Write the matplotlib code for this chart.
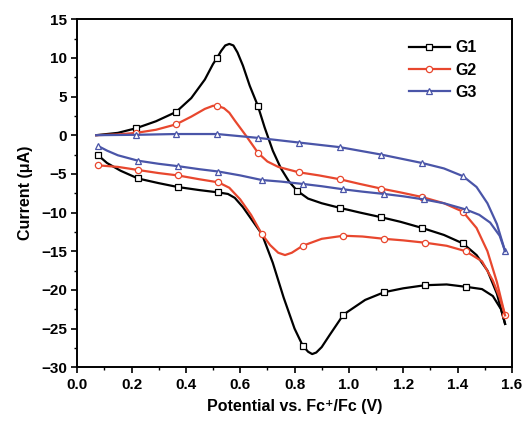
import matplotlib
matplotlib.use("Agg")
import matplotlib.pyplot as plt
from matplotlib.ticker import MultipleLocator

# --- DATA ---
# G1: forward (anodic) scan and return scan
g1_fwd_x = [0.07, 0.15, 0.217, 0.29, 0.364, 0.42, 0.47, 0.50, 0.515, 0.53, 0.545, 0.56, 0.575, 0.59,
            0.61, 0.635, 0.665, 0.69, 0.72, 0.75, 0.78, 0.81, 0.85, 0.90, 0.967, 1.04, 1.118, 1.19,
            1.27, 1.35, 1.42, 1.47, 1.51, 1.545, 1.575]
g1_fwd_y = [0.0, 0.3, 0.9, 1.8, 3.0, 4.8, 7.2, 9.2, 10.0, 10.9, 11.6, 11.8, 11.6, 10.7,
            9.0, 6.4, 3.8, 1.0, -2.0, -4.3, -6.0, -7.2, -8.2, -8.8, -9.4, -10.0, -10.6, -11.2,
            -12.0, -12.9, -14.0, -15.5, -17.5, -20.5, -24.4]
g1_rev_x = [1.575, 1.56, 1.53, 1.49, 1.43, 1.36, 1.28, 1.20, 1.13, 1.06, 0.98, 0.93, 0.90, 0.88,
            0.865, 0.85, 0.83, 0.80, 0.76, 0.72, 0.68, 0.64, 0.61, 0.58, 0.555, 0.52, 0.45, 0.37,
            0.30, 0.224, 0.16, 0.11, 0.077]
g1_rev_y = [-24.4, -22.5, -20.8, -19.9, -19.6, -19.3, -19.4, -19.8, -20.3, -21.3, -23.2, -25.8, -27.4, -28.1,
            -28.3, -28.0, -27.2, -25.0, -21.0, -16.5, -12.8, -10.8, -9.3, -8.1, -7.6, -7.4, -7.1, -6.7,
            -6.2, -5.6, -4.6, -3.6, -2.6]
g1_fwd_marks = [2, 4, 8, 16, 21, 24, 26, 28, 30]
g1_rev_marks = [4, 6, 8, 10, 16, 25, 27, 29, 32]

# G2
g2_fwd_x = [0.07, 0.15, 0.217, 0.29, 0.364, 0.42, 0.47, 0.50, 0.515, 0.54, 0.56, 0.58, 0.62, 0.666,
            0.70, 0.74, 0.816, 0.89, 0.967, 1.04, 1.118, 1.19, 1.27, 1.35, 1.42, 1.47, 1.51, 1.545,
            1.575]
g2_fwd_y = [0.0, 0.1, 0.3, 0.7, 1.4, 2.4, 3.4, 3.8, 3.8, 3.5, 2.9, 1.9, 0.0, -2.3,
            -3.4, -4.1, -4.8, -5.2, -5.7, -6.3, -6.9, -7.4, -8.0, -8.8, -9.9, -12.0, -15.0, -19.0,
            -23.3]
g2_rev_x = [1.575, 1.555, 1.53, 1.49, 1.43, 1.36, 1.28, 1.20, 1.13, 1.05, 0.98, 0.90, 0.83, 0.79,
            0.765, 0.74, 0.71, 0.68, 0.64, 0.60, 0.56, 0.52, 0.45, 0.37, 0.30, 0.224, 0.15, 0.077]
g2_rev_y = [-23.3, -21.0, -18.8, -16.3, -15.0, -14.3, -13.9, -13.6, -13.4, -13.1, -13.0, -13.4, -14.3, -15.2,
            -15.5, -15.2, -14.2, -12.8, -10.3, -8.3, -6.8, -6.1, -5.7, -5.2, -4.9, -4.5, -4.1, -3.9]
g2_fwd_marks = [2, 4, 8, 13, 16, 18, 20, 22, 24, 28]
g2_rev_marks = [4, 6, 8, 10, 12, 17, 21, 23, 25, 27]

# G3
g3_fwd_x = [0.07, 0.217, 0.364, 0.515, 0.666, 0.816, 0.967, 1.118, 1.27, 1.35, 1.42, 1.47, 1.51, 1.545, 1.575]
g3_fwd_y = [0.0, 0.05, 0.15, 0.15, -0.35, -0.95, -1.55, -2.5, -3.6, -4.3, -5.3, -6.7, -8.8, -11.5, -15.0]
g3_rev_x = [1.575, 1.555, 1.52, 1.48, 1.43, 1.35, 1.275, 1.20, 1.13, 1.05, 0.98, 0.90, 0.83, 0.75,
            0.68, 0.60, 0.52, 0.45, 0.37, 0.30, 0.224, 0.15, 0.11, 0.077]
g3_rev_y = [-15.0, -13.0, -11.3, -10.3, -9.6, -8.8, -8.3, -7.9, -7.6, -7.3, -7.0, -6.6, -6.3, -6.0,
            -5.8, -5.2, -4.7, -4.4, -4.0, -3.7, -3.3, -2.6, -2.0, -1.4]
g3_fwd_marks = [1, 2, 3, 4, 5, 6, 7, 8, 10, 14]
g3_rev_marks = [4, 6, 8, 10, 12, 14, 16, 18, 20, 23]

series = [
    ("G1", "black", "s", g1_fwd_x, g1_fwd_y, g1_fwd_marks, g1_rev_x, g1_rev_y, g1_rev_marks),
    ("G2", "#e8472e", "o", g2_fwd_x, g2_fwd_y, g2_fwd_marks, g2_rev_x, g2_rev_y, g2_rev_marks),
    ("G3", "#4a55a8", "^", g3_fwd_x, g3_fwd_y, g3_fwd_marks, g3_rev_x, g3_rev_y, g3_rev_marks),
]

plt.rcParams['font.family'] = ['Liberation Sans', 'DejaVu Sans']
plt.rcParams['font.weight'] = 'bold'

fig = plt.figure(figsize=(5.25, 4.26), dpi=100)
ax = fig.add_axes([0.147, 0.138, 0.828, 0.817])

for name, col, mk, fx, fy, fm, rx, ry, rm in series:
    style = dict(color=col, lw=1.6, marker=mk, ms=4.5, mfc="white", mec=col, mew=0.9)
    ax.plot(fx, fy, markevery=fm, label=name, **style)
    ax.plot(rx, ry, markevery=rm, **style)

ax.set_xlim(0.0, 1.6)
ax.set_ylim(-30, 15)
ax.xaxis.set_major_locator(MultipleLocator(0.2))
ax.xaxis.set_minor_locator(MultipleLocator(0.1))
ax.yaxis.set_major_locator(MultipleLocator(5))
ax.yaxis.set_minor_locator(MultipleLocator(2.5))
ax.tick_params(which="major", length=4, width=1.2, labelsize=11)
ax.tick_params(which="minor", length=2.5, width=1.0)
for s in ax.spines.values():
    s.set_linewidth(1.4)

ax.set_xlabel("Potential vs. Fc\u207a/Fc (V)", fontsize=11.5, fontweight="bold", labelpad=5)
ax.set_ylabel("Current (\u03bcA)", fontsize=11.5, fontweight="bold", labelpad=6)

ax.legend(loc="upper right", bbox_to_anchor=(0.955, 0.985), frameon=False, fontsize=11.5,
          handlelength=2.6, handletextpad=0.3, labelspacing=0.45, borderaxespad=0.6)

fig.savefig("out.png", dpi=100)
